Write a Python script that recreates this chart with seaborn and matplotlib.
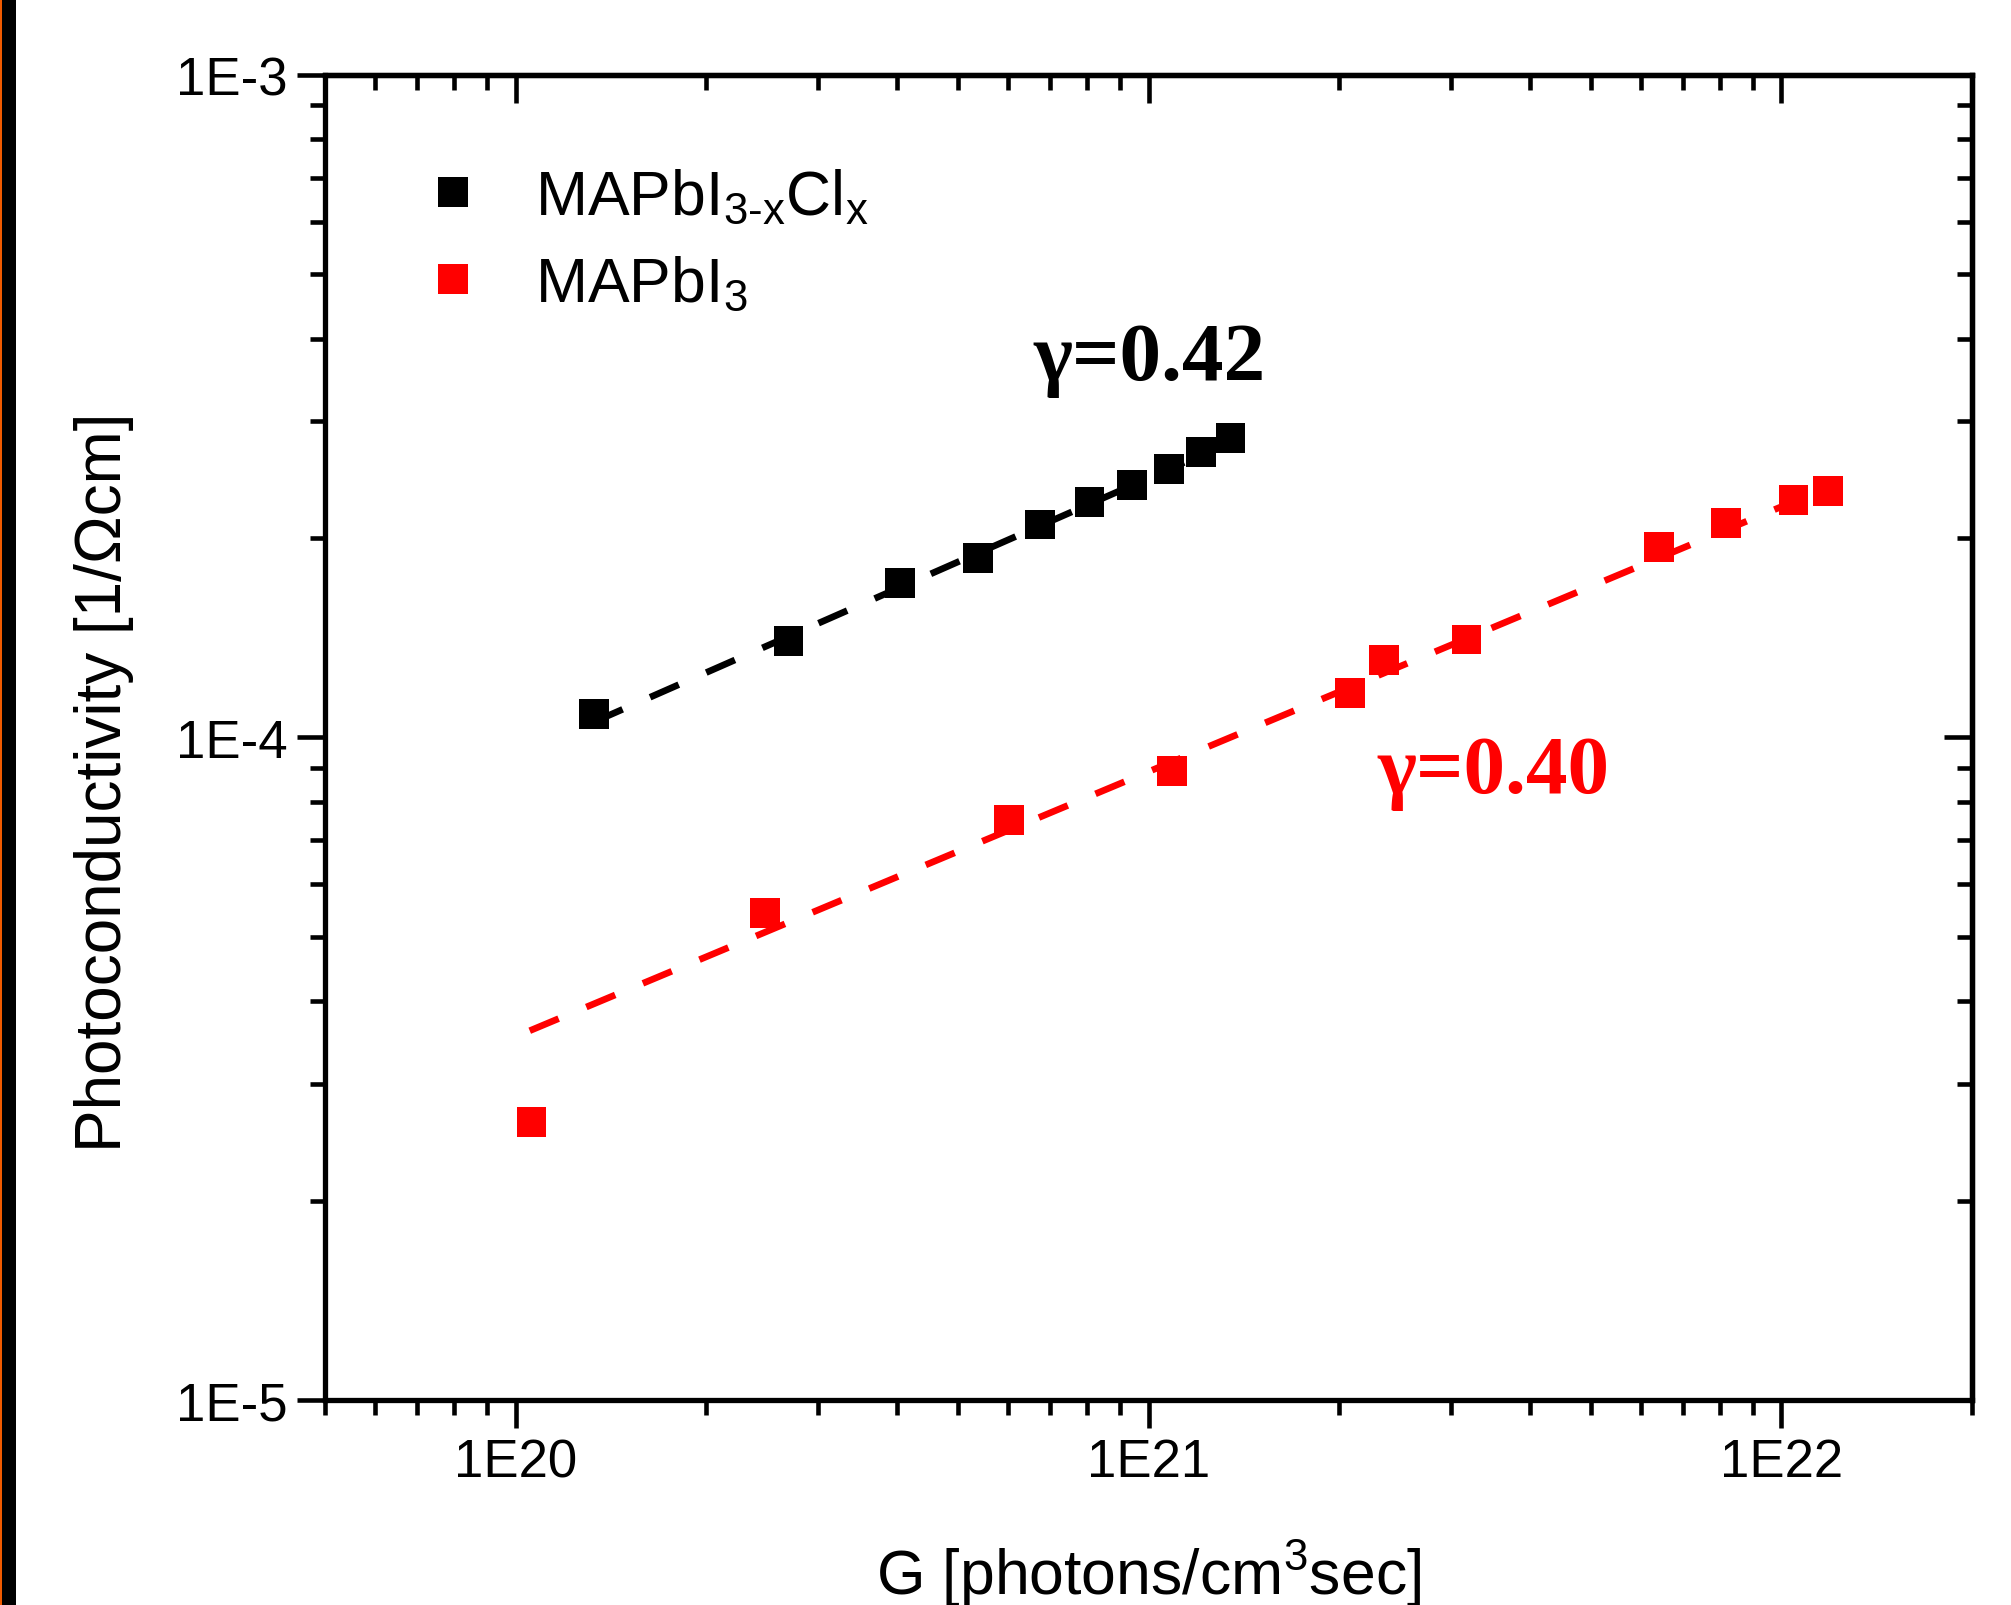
import numpy as np
import pandas as pd
import matplotlib
matplotlib.use("Agg")
import matplotlib.pyplot as plt
from matplotlib.lines import Line2D
from matplotlib.patches import Rectangle
from matplotlib.ticker import FuncFormatter, NullFormatter
import seaborn as sns

# Generation rate G [photons/cm^3 s] and photoconductivity [1/(Ohm cm)]
g_clx = [1.33e20, 2.70e20, 4.05e20, 5.38e20, 6.73e20, 8.07e20, 9.41e20,
         1.077e21, 1.21e21, 1.348e21]
sigma_clx = [1.085e-4, 1.40e-4, 1.709e-4, 1.866e-4, 2.096e-4, 2.27e-4,
             2.408e-4, 2.543e-4, 2.695e-4, 2.83e-4]

g_pure = [1.06e20, 2.48e20, 6.02e20, 1.09e21, 2.08e21, 2.355e21, 3.18e21,
          6.41e21, 8.18e21, 1.045e22, 1.185e22]
sigma_pure = [2.625e-5, 5.43e-5, 7.51e-5, 8.90e-5, 1.166e-4, 1.309e-4,
              1.406e-4, 1.937e-4, 2.106e-4, 2.283e-4, 2.358e-4]

series_names = ["MAPbI3-xClx", "MAPbI3"]
legend_labels = [r"MAPbI$_{\mathrm{3}\text{-}\mathrm{x}}$Cl$_{\mathrm{x}}$",
                 r"MAPbI$_{\mathrm{3}}$"]
series_colors = ["#000000", "#ff0000"]

# Power-law fits: sigma = A * (G / 1e21) ** gamma
fit_gamma = [0.42, 0.40]
fit_prefactor = [2.463e-4, 8.88e-5]
fit_g_start = [1.33e20, 1.053e20]
fit_g_end = [1.348e21, 1.185e22]

x_limits = [5e19, 2e22]
y_limits = [1e-5, 1e-3]

sns.set_style("ticks")
plt.rcParams["font.family"] = ["Liberation Sans", "DejaVu Sans"]
plt.rcParams["mathtext.fontset"] = "custom"
plt.rcParams["mathtext.rm"] = "Liberation Sans"
plt.rcParams["mathtext.it"] = "Liberation Sans:italic"
plt.rcParams["mathtext.bf"] = "Liberation Sans:bold"
plt.rcParams["axes.linewidth"] = 3.8
plt.rcParams["axes.edgecolor"] = "black"
plt.rcParams["text.color"] = "black"
plt.rcParams["axes.labelcolor"] = "black"
plt.rcParams["xtick.color"] = "black"
plt.rcParams["ytick.color"] = "black"

df = pd.concat([
    pd.DataFrame({"G": g_clx, "sigma": sigma_clx, "sample": series_names[0]}),
    pd.DataFrame({"G": g_pure, "sigma": sigma_pure, "sample": series_names[1]}),
], ignore_index=True)
palette = dict(zip(series_names, series_colors))

fig = plt.figure(figsize=(20.11, 16.06), dpi=100)
fig.patch.set_facecolor("white")
ax = fig.add_axes([0.16161, 0.12765, 0.81900, 0.82503])
ax.set_xscale("log")
ax.set_yscale("log")

# fitted power laws underneath the points
for i, name in enumerate(series_names):
    g_fit = np.array([fit_g_start[i], fit_g_end[i]])
    s_fit = fit_prefactor[i] * (g_fit / 1e21) ** fit_gamma[i]
    sns.lineplot(x=g_fit, y=s_fit, ax=ax, color=series_colors[i],
                 linewidth=4.8, linestyle=(0, (4.7, 4.5)), zorder=2)

sns.scatterplot(data=df, x="G", y="sigma", hue="sample", palette=palette,
                hue_order=series_names, marker="s", s=460, linewidth=0,
                legend=False, ax=ax, zorder=3)

ax.set_xlim(*x_limits)
ax.set_ylim(*y_limits)

sci = FuncFormatter(lambda v, p: f"1E{int(round(np.log10(v)))}")
ax.xaxis.set_major_formatter(sci)
ax.yaxis.set_major_formatter(sci)
ax.xaxis.set_minor_formatter(NullFormatter())
ax.yaxis.set_minor_formatter(NullFormatter())

ax.tick_params(which="both", direction="out", width=3.3, colors="black",
               labelsize=38, top=False, right=False)
ax.tick_params(which="major", length=20, pad=7)
ax.tick_params(which="minor", length=11)

# mirrored axes on top and right with inward ticks
top = ax.secondary_xaxis("top")
right = ax.secondary_yaxis("right")
for sec, axis in ((top, top.xaxis), (right, right.yaxis)):
    sec.tick_params(which="both", direction="in", width=3.3, colors="black")
    sec.tick_params(which="major", length=20)
    sec.tick_params(which="minor", length=11)
    axis.set_major_formatter(NullFormatter())
    axis.set_minor_formatter(NullFormatter())
    for sp in sec.spines.values():
        sp.set_linewidth(3.8)

ax.set_xlabel("G [photons/cm$^{\\mathrm{3}}$sec]", fontsize=45, va="baseline",
              color="black")
ax.xaxis.set_label_coords(0.5, -0.146)
ax.set_ylabel("Photoconductivity [1/\u03a9cm]", fontsize=46, color="black")
ax.yaxis.label.set_va("baseline")
ax.yaxis.set_label_coords(-0.124, 0.467)

handles = [Line2D([], [], marker="s", linestyle="none", markersize=21.5,
                  markeredgewidth=0, color=c) for c in series_colors]
leg = ax.legend(handles, legend_labels, loc="upper left",
                bbox_to_anchor=(0.059, 0.93), frameon=False, fontsize=45,
                handlelength=1.0, handletextpad=0.8, borderpad=0,
                borderaxespad=0, labelspacing=0.45)
for t in leg.get_texts():
    t.set_color("black")

ax.text(0.430, 0.7706, "\u03b3=0.42", transform=ax.transAxes,
        fontsize=60, fontweight="bold", family=["Liberation Serif", "DejaVu Serif"],
        color=series_colors[0], va="baseline", ha="left")
ax.text(0.6387, 0.4589, "\u03b3=0.40", transform=ax.transAxes,
        fontsize=60, fontweight="bold", family=["Liberation Serif", "DejaVu Serif"],
        color=series_colors[1], va="baseline", ha="left")

# dark frame strip on the left edge
fig.add_artist(Rectangle((0, 0), 16 / 2011, 1, transform=fig.transFigure,
                         facecolor="black", edgecolor="none", zorder=10))
fig.add_artist(Rectangle((0, 0), 2 / 2011, 1, transform=fig.transFigure,
                         facecolor="#f05a00", edgecolor="none", zorder=11))

fig.savefig("out.png", dpi=100, facecolor="white")
